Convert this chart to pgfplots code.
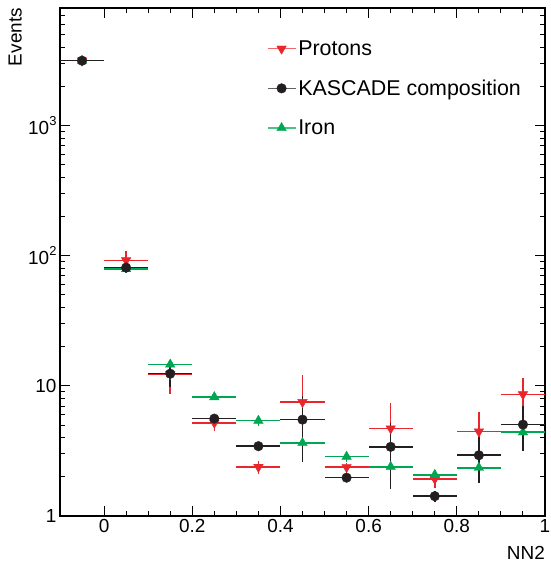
\documentclass[border=0pt]{standalone}
\usepackage{pgfplots}
\pgfplotsset{compat=1.18}
\usepackage{pgfplotstable}
\usepackage{fontspec}
\setmainfont{Liberation Sans}
\definecolor{pred}{RGB}{232,38,44}
\definecolor{pgreen}{RGB}{0,166,81}
\definecolor{pblack}{RGB}{35,31,32}

\pgfplotstableread{
x y ex eyp eym
-0.05 3150 0.05 40 40
0.05 92 0.05 16 16
0.15 12.3 0.05 3.5 3.6
0.25 5.2 0.05 0.7 0.7
0.35 2.38 0.05 0.28 0.28
0.45 7.5 0.05 4.7 4.7
0.55 2.37 0.05 0.2 0.2
0.65 4.7 0.05 2.7 2.7
0.75 1.93 0.05 0.3 0.3
0.85 4.45 0.05 1.8 1.8
0.95 8.6 0.05 2.9 2.9
}\protons

\pgfplotstableread{
x y ex eyp eym
-0.05 3150 0.05 30 30
0.05 81 0.05 3 3
0.15 12.4 0.05 2.6 2.6
0.25 5.6 0.05 0.4 0.4
0.35 3.44 0.05 0.25 0.25
0.45 5.5 0.05 2.9 2.9
0.55 1.97 0.05 0.1 0.1
0.65 3.4 0.05 1.8 1.8
0.75 1.42 0.05 0.13 0.13
0.85 2.93 0.05 1.15 1.15
0.95 5.04 0.05 1.9 1.9
}\kascade

\pgfplotstableread{
x y ex eyp eym
-0.05 3150 0.05 20 20
0.05 79 0.05 5 5
0.15 14.6 0.05 1.0 1.0
0.25 8.2 0.05 0.4 0.4
0.35 5.4 0.05 0.5 0.5
0.45 3.64 0.05 1.0 1.0
0.55 2.86 0.05 0.27 0.27
0.65 2.39 0.05 0.3 0.3
0.75 2.07 0.05 0.2 0.2
0.85 2.35 0.05 0.3 0.3
0.95 4.4 0.05 0.5 0.5
}\iron

\begin{document}
\begin{tikzpicture}
\begin{axis}[name=ax, scale only axis, width=485bp, height=508bp,
  xmin=-0.1, xmax=1, ymode=log, ymin=1, ymax=8000,
  xtick={0,0.2,0.4,0.6,0.8,1}, xticklabels={0,0.2,0.4,0.6,0.8,1},
  minor x tick num=3,
  ytick={1,10,100,1000},
  yticklabels={1,10,10\raisebox{0.45em}{\fontsize{13}{13}\selectfont 2},10\raisebox{0.45em}{\fontsize{13}{13}\selectfont 3}},
  minor ytick={2,3,4,5,6,7,8,9,20,30,40,50,60,70,80,90,200,300,400,500,600,700,800,900,2000,3000,4000,5000,6000,7000,8000},
  major tick length=10bp, minor tick length=5bp,
  tick style={line width=1bp, color=black},
  axis line style={line width=1.2bp},
  ticklabel style={font=\fontsize{19}{22}\selectfont},
  legend style={draw=none, fill=none, at={(0.42,0.944)}, anchor=north west,
    font=\fontsize{21.5}{25}\selectfont, row sep=19bp},
  legend cell align=left,
  legend image code/.code={
    \draw[#1, mark=none, line width=1.4bp, opacity=0.7] (0bp,0bp) -- (28bp,0bp);
    \draw[#1] plot coordinates {(14bp,0bp)};
  },
  error bars/error bar style={line width=1.6bp},
]
\addlegendimage{only marks, color=pred, mark=triangle*, mark size=5.5bp, mark options={rotate=180}}
\addlegendentry{Protons}
\addlegendimage{only marks, color=pblack, mark=*, mark size=4.8bp}
\addlegendentry{KASCADE composition}
\addlegendimage{only marks, color=pgreen, mark=triangle*, mark size=5.5bp}
\addlegendentry{Iron}
\addplot[only marks, color=pred, mark=triangle*, mark size=5.5bp, mark options={rotate=180}, forget plot,
  error bars/.cd, x dir=both, x explicit, y dir=both, y explicit, error mark=none]
  table[x=x, y=y, x error=ex, y error plus=eyp, y error minus=eym]{\protons};
\addplot[only marks, color=pgreen, mark=triangle*, mark size=5.5bp, forget plot,
  error bars/.cd, x dir=both, x explicit, y dir=both, y explicit, error mark=none]
  table[x=x, y=y, x error=ex, y error plus=eyp, y error minus=eym]{\iron};
\addplot[only marks, color=pblack, mark=*, mark size=4.8bp, forget plot,
  error bars/.cd, x dir=both, x explicit, y dir=both, y explicit, error mark=none]
  table[x=x, y=y, x error=ex, y error plus=eyp, y error minus=eym]{\kascade};
\end{axis}
\node[rotate=90, anchor=south east, font=\fontsize{19}{22}\selectfont, inner sep=0pt]
  at ([xshift=-38bp]ax.north west) {Events};
\node[anchor=north east, font=\fontsize{19}{22}\selectfont, inner sep=0pt]
  at ([yshift=-30bp]ax.south east) {NN2};
\pgfresetboundingbox
\path ([xshift=-60bp,yshift=-51bp]ax.south west) rectangle ([xshift=6bp,yshift=8bp]ax.north east);
\end{tikzpicture}
\end{document}
